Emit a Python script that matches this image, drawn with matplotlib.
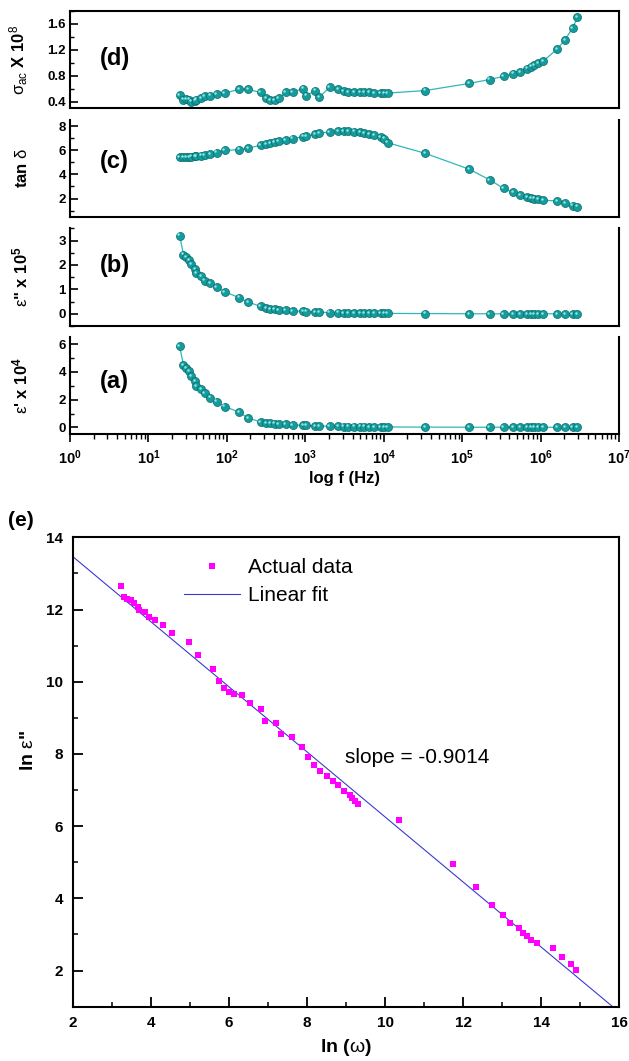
import matplotlib
matplotlib.use("Agg")
import matplotlib.pyplot as plt
import matplotlib.transforms as mtransforms
from matplotlib.ticker import MultipleLocator, LogLocator, FuncFormatter, NullFormatter
import numpy as np

plt.rcParams['font.family'] = ['Liberation Sans', 'DejaVu Sans']
plt.rcParams['mathtext.fontset'] = 'custom'
plt.rcParams['mathtext.rm'] = 'Liberation Sans'
plt.rcParams['mathtext.it'] = 'Liberation Sans:italic'
plt.rcParams['mathtext.bf'] = 'Liberation Sans:bold'

# frequencies (Hz) shared by panels (a)-(d)
freq = [25, 28, 30, 33, 35, 39, 41, 47, 52, 61,
        74, 94, 144, 185, 269, 316, 355, 407, 457, 562,
        692, 933, 1023, 1349, 1514, 2042, 2630, 3090, 3548, 4169,
        5012, 5623, 6457, 7586, 9120, 10230, 11220, 33900, 123000, 224000,
        339000, 447000, 550000, 676000, 759000, 832000, 933000, 1070000, 1620000, 2040000,
        2570000, 2950000]

# (d) sigma_ac x 1e8
sigma_ac = [0.50, 0.43, 0.44, 0.43, 0.40, 0.415, 0.43, 0.45, 0.48, 0.49,
            0.52, 0.53, 0.59, 0.59, 0.54, 0.45, 0.42, 0.42, 0.45, 0.54,
            0.55, 0.60, 0.49, 0.57, 0.47, 0.62, 0.59, 0.56, 0.55, 0.55,
            0.545, 0.54, 0.54, 0.535, 0.535, 0.53, 0.53, 0.57, 0.68, 0.74,
            0.79, 0.83, 0.86, 0.91, 0.94, 0.96, 0.99, 1.02, 1.21, 1.35,
            1.54, 1.70]

# (c) tan delta
tan_d = [5.40, 5.42, 5.43, 5.45, 5.47, 5.49, 5.51, 5.55, 5.60, 5.68,
         5.80, 5.98, 6.05, 6.15, 6.42, 6.52, 6.60, 6.68, 6.74, 6.85,
         6.95, 7.12, 7.18, 7.33, 7.42, 7.50, 7.57, 7.58, 7.57, 7.53,
         7.47, 7.42, 7.35, 7.25, 7.08, 6.95, 6.62, 5.74, 4.43, 3.55,
         2.84, 2.51, 2.26, 2.15, 2.05, 2.00, 1.93, 1.87, 1.80, 1.64,
         1.42, 1.33]

# (b) eps'' x 1e5
eps2 = [3.20, 2.42, 2.33, 2.20, 2.02, 1.83, 1.67, 1.54, 1.36, 1.27,
        1.09, 0.90, 0.66, 0.48, 0.31, 0.24, 0.20, 0.18, 0.16, 0.14,
        0.12, 0.10, 0.09, 0.07, 0.065, 0.05, 0.045, 0.04, 0.035, 0.03,
        0.03, 0.025, 0.02, 0.02, 0.02, 0.015, 0.015, 0.01, 0.0, 0.0,
        0.0, 0.0, 0.0, 0.0, 0.0, 0.0, 0.0, 0.0, 0.0, 0.0,
        0.0, 0.0]

# (a) eps' x 1e4
eps1 = [5.85, 4.50, 4.30, 4.05, 3.70, 3.35, 3.00, 2.75, 2.45, 2.15,
        1.85, 1.50, 1.10, 0.68, 0.40, 0.33, 0.30, 0.27, 0.24, 0.21,
        0.18, 0.15, 0.14, 0.11, 0.10, 0.08, 0.07, 0.06, 0.06, 0.05,
        0.05, 0.05, 0.04, 0.04, 0.04, 0.03, 0.03, 0.02, 0.01, 0.01,
        0.01, 0.01, 0.01, 0.01, 0.01, 0.01, 0.01, 0.01, 0.0, 0.0,
        0.0, 0.0]

# (e) ln(omega) vs ln(eps'')
ln_w = [3.23, 3.32, 3.40, 3.49, 3.57, 3.66, 3.71, 3.85, 3.96, 4.11,
        4.31, 4.54, 4.97, 5.22, 5.59, 5.75, 5.88, 6.00, 6.12, 6.33,
        6.53, 6.83, 6.93, 7.21, 7.33, 7.62, 7.88, 8.03, 8.17, 8.34,
        8.51, 8.66, 8.79, 8.96, 9.09, 9.15, 9.24, 9.32, 10.37, 11.73,
        12.33, 12.73, 13.02, 13.21, 13.43, 13.54, 13.64, 13.75, 13.88, 14.31,
        14.52, 14.76, 14.89]
ln_e = [12.65, 12.35, 12.30, 12.26, 12.17, 12.07, 11.98, 11.93, 11.78, 11.72,
        11.58, 11.36, 11.10, 10.73, 10.34, 10.01, 9.83, 9.71, 9.67, 9.62,
        9.42, 9.25, 8.92, 8.86, 8.56, 8.48, 8.18, 7.92, 7.70, 7.54,
        7.40, 7.26, 7.13, 6.98, 6.87, 6.77, 6.70, 6.62, 6.17, 4.94,
        4.32, 3.83, 3.54, 3.32, 3.18, 3.04, 2.95, 2.84, 2.77, 2.63,
        2.38, 2.17, 2.02]
fit_slope = -0.9014
fit_intercept = 15.27
fit_range = [2, 16]

W, H = 629, 1061
fig = plt.figure(figsize=(W / 100, H / 100), dpi=100)


def box(l, t, r, b):
    return [l / W, 1 - b / H, (r - l) / W, (b - t) / H]


teal = '#149c9c'
teal_dark = '#0a6b6b'
teal_line = '#2fb8b8'

panels = [
    ('(d)', sigma_ac, (0.3, 1.8), 0.4, 0.2, box(70, 11, 619, 108), 0.515,
     r'$\mathrm{σ}_{\mathrm{ac}}$ X 10$^{\mathrm{8}}$'),
    ('(c)', tan_d, (0.5, 8.5), 2, 1, box(70, 120, 619, 216.7), 0.57,
     r'tan $\mathrm{δ}$'),
    ('(b)', eps2, (-0.5, 3.5), 1, 0.5, box(70, 228.3, 619, 326), 0.62,
     r'$\mathrm{ε}$" x 10$^{\mathbf{5}}$'),
    ('(a)', eps1, (-0.5, 6.5), 2, 1, box(70, 337.3, 619, 434.3), 0.54,
     r"$\mathrm{ε}$' x 10$^{\mathbf{4}}$"),
]

shine = mtransforms.ScaledTranslation(-0.9 / 72, 0.9 / 72, fig.dpi_scale_trans)
axes = []
for i, (tag, vals, ylim, major, minor, pos, tag_y, ylab) in enumerate(panels):
    ax = fig.add_axes(pos)
    axes.append(ax)
    ax.set_xscale('log')
    ax.set_xlim(1, 1e7)
    ax.set_ylim(*ylim)
    ax.plot(freq, vals, '-', color=teal_line, lw=0.9, zorder=2)
    ax.plot(freq, vals, 'o', ms=5.8, mfc=teal, mec=teal_dark, mew=0.5, zorder=3)
    ax.plot(freq, vals, 'o', ms=1.8, color='#8fe6e6', mew=0, zorder=4,
            transform=ax.transData + shine)
    for s in ax.spines.values():
        s.set_linewidth(1.5)
    if i > 0:
        ax.spines['top'].set_visible(False)
    ax.yaxis.set_major_locator(MultipleLocator(major))
    ax.yaxis.set_minor_locator(MultipleLocator(minor))
    ax.tick_params(axis='y', which='major', direction='in', length=5.5, width=1.2,
                   labelsize=9.5, pad=3, right=False)
    ax.tick_params(axis='y', which='minor', direction='in', length=3, width=1.0, right=False)
    for lb in ax.get_yticklabels():
        lb.set_fontweight('bold')
    ax.set_ylabel(ylab, fontsize=12, fontweight='bold')
    ax.yaxis.set_label_coords(-0.072, 0.5)
    ax.text(0.055, tag_y, tag, transform=ax.transAxes, fontsize=17,
            fontweight='bold', va='center', ha='left')
    if tag != '(a)':
        ax.tick_params(axis='x', which='both', bottom=False, top=False,
                       labelbottom=False)

ax = axes[-1]
ax.xaxis.set_major_locator(LogLocator(base=10, numticks=20))
ax.xaxis.set_minor_locator(LogLocator(base=10, subs=np.arange(2, 10), numticks=100))
ax.xaxis.set_minor_formatter(NullFormatter())
ax.xaxis.set_major_formatter(FuncFormatter(
    lambda v, p: r'$\mathbf{10^{%d}}$' % int(round(np.log10(v)))))
ax.tick_params(axis='x', which='major', direction='out', length=6, width=1.2,
               labelsize=10.5, pad=4, top=False)
ax.tick_params(axis='x', which='minor', direction='out', length=3.5, width=1.0, top=False)
ax.set_xlabel('log f (Hz)', fontsize=12, fontweight='bold', labelpad=3)

# (e)
ae = fig.add_axes(box(72.7, 537.3, 619.3, 1006.7))
ae.set_xlim(2, 16)
ae.set_ylim(1, 14)
fx = np.array(fit_range, dtype=float)
ae.plot(ln_w, ln_e, 's', ms=5, color='#ff00ff', mew=0, label='Actual data', zorder=3)
ae.plot(fx, fit_intercept + fit_slope * fx, '-', color='#3a3ad0', lw=0.8,
        label='Linear fit', zorder=2)
for s in ae.spines.values():
    s.set_linewidth(1.5)
ae.xaxis.set_major_locator(MultipleLocator(2))
ae.xaxis.set_minor_locator(MultipleLocator(1))
ae.yaxis.set_major_locator(MultipleLocator(2))
ae.yaxis.set_minor_locator(MultipleLocator(1))
ae.tick_params(which='major', direction='in', length=7, width=1.3, labelsize=11,
               pad=7, top=False, right=False)
ae.tick_params(which='minor', direction='in', length=3.5, width=1.1, top=False, right=False)
for lb in ae.get_xticklabels() + ae.get_yticklabels():
    lb.set_fontweight('bold')
ae.set_xlabel(r'ln ($\mathrm{ω}$)', fontsize=14, fontweight='bold', labelpad=5)
ae.set_ylabel(r'ln $\mathrm{ε}$"', fontsize=14, fontweight='bold')
ae.yaxis.set_label_coords(-0.066, 0.547)
ae.text(8.98, 7.9, 'slope = -0.9014', fontsize=15, va='center', ha='left')
ae.legend(loc='upper left', bbox_to_anchor=(184 / W, 1 - 558 / H),
          bbox_transform=fig.transFigure, frameon=False, fontsize=15,
          handlelength=2.7, handletextpad=0.35, labelspacing=0.45,
          borderpad=0, borderaxespad=0)
fig.text(8 / W, 1 - 520 / H, '(e)', fontsize=15, fontweight='bold',
         va='center', ha='left')

fig.savefig('out.png', dpi=100)
